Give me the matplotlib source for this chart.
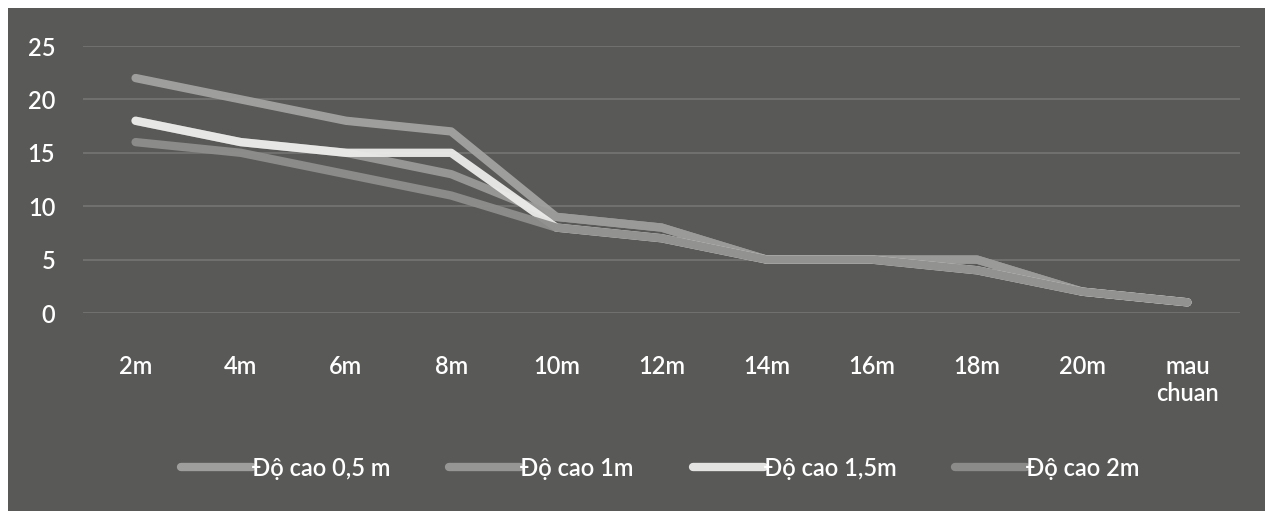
import matplotlib
matplotlib.use("Agg")
import matplotlib.pyplot as plt
from matplotlib.patches import Rectangle

categories = ["2m", "4m", "6m", "8m", "10m", "12m", "14m", "16m", "18m", "20m", "mau\nchuan"]
series_names = ["Độ cao 0,5 m", "Độ cao 1m", "Độ cao 1,5m", "Độ cao 2m"]
h05 = [22, 20, 18, 17, 9, 8, 5, 5, 5, 2, 1]
h1 = [18, 16, 15, 13, 9, 8, 5, 5, 5, 2, 1]
h15 = [18, 16, 15, 15, 8, 7, 5, 5, 4, 2, 1]
h2 = [16, 15, 13, 11, 8, 7, 5, 5, 4, 2, 1]
yticks = [0, 5, 10, 15, 20, 25]

plt.rcParams["font.family"] = ["Lato", "DejaVu Sans"]
plt.rcParams["font.weight"] = "semibold"

bg = "#595957"
fig = plt.figure(figsize=(12.65, 5.11), dpi=100, facecolor=bg)
# white scan border on the top and left
fig.patches.append(Rectangle((0, 1 - 8 / 511), 1, 8 / 511, transform=fig.transFigure,
                             facecolor="white", edgecolor="none", zorder=0))
fig.patches.append(Rectangle((0, 0), 8 / 1265, 1, transform=fig.transFigure,
                             facecolor="white", edgecolor="none", zorder=0))

ax = fig.add_axes([83 / 1265, 1 - 313 / 511, (1240 - 83) / 1265, (313 - 46) / 511])
ax.set_facecolor(bg)

x = list(range(len(categories)))
colors = ["#a3a3a1", "#9a9a98", "#ececea", "#8e8e8c"]
for vals, name, c in zip([h05, h1, h15, h2], series_names, colors):
    ax.plot(x, vals, color=c, lw=6, solid_capstyle="round", solid_joinstyle="round",
            alpha=0.95, label=name)

ax.set_xlim(-0.5, len(categories) - 0.5)
ax.set_ylim(0, 25)
ax.set_yticks(yticks)
ax.set_xticks(x)
ax.set_xticklabels(categories, linespacing=1.25)
ax.grid(axis="y", color="#757573", lw=1.2)
ax.set_axisbelow(True)
for s in ax.spines.values():
    s.set_visible(False)
ax.tick_params(axis="both", length=0, colors="white", labelsize=17)
ax.tick_params(axis="y", pad=20)
ax.tick_params(axis="x", pad=30)

leg = fig.legend(loc="center", bbox_to_anchor=(0.522, 1 - 468 / 511), ncol=4, frameon=False,
                 fontsize=17, handlelength=3.0, handletextpad=0.0, columnspacing=2.5)
for t in leg.get_texts():
    t.set_color("white")

fig.savefig("out.png", dpi=100, facecolor=fig.get_facecolor())
